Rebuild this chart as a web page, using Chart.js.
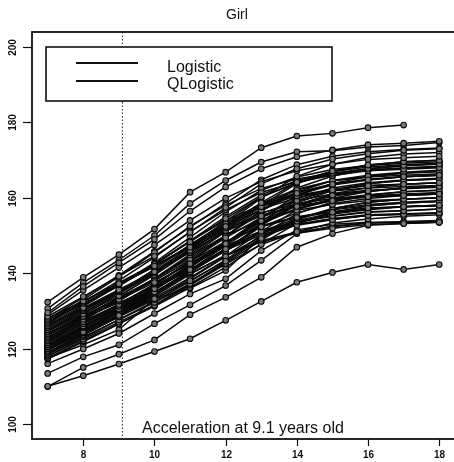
<!DOCTYPE html>
<html>
<head>
<meta charset="utf-8">
<script src="https://cdn.jsdelivr.net/npm/chart.js@4.4.1/dist/chart.umd.min.js"></script>
<style>
  html, body { margin: 0; padding: 0; background: #fff; overflow: hidden; }
  canvas { display: block; }
</style>
</head>
<body>
<canvas id="girlChart" width="460" height="462"></canvas>
<script>
// ages (x) and heights (cm) for each girl
const ages = [7, 8, 9, 10, 11, 12, 13, 14, 15, 16, 17, 18];

const tallCurves = [
  [132.3, 138.9, 144.9, 151.7, 161.5, 166.8, 173.3, 176.4, 177.1, 178.6, 179.3, null],
  [130.6, 137.5, 143.5, 150.0, 158.5, 164.6, 169.5, 172.2, 172.5, 173.5, 173.9, 174.7],
];

const shortCurves = [
  [110.0, 112.8, 115.9, 119.2, 122.6, 127.5, 132.5, 137.6, 140.2, 142.3, 141.0, 142.3],
  [109.9, 115.0, 118.5, 122.3, 129.0, 133.6, 138.9, 146.9, 150.5, 152.7, 153.2, 153.5],
  [113.4, 117.8, 121.0, 126.6, 131.6, 136.7, 143.4, 150.5, 152.5, 153.3, 153.5, 153.5],
  [116.0, 119.9, 124.0, 129.3, 134.5, 138.5, 146.0, 151.5, 153.0, 153.5, 153.5, 153.8],
  [117.5, 121.0, 125.0, 133.2, 136.0, 140.7, 149.6, 153.0, 154.5, 155.5, 155.8, 156.0],
];

const bandCurves = [
  [129.5, 136.5, 142.8, 149.0, 156.5, 162.9, 167.7, 170.9, 172.7, 174.1, 174.5, 175.0],
  [128.5, 133.8, 139.2, 144.5, 150.8, 157.4, 163.7, 167.7, 170.3, 171.7, 172.6, 173.0],
  [129.0, 135.5, 141.5, 147.5, 154.0, 159.9, 164.3, 167.2, 168.9, 170.2, 170.6, 171.0],
  [128.0, 132.6, 137.2, 141.9, 146.9, 152.4, 158.7, 164.1, 167.1, 168.7, 169.6, 170.0],
  [127.5, 132.5, 137.5, 142.4, 148.3, 154.5, 160.3, 164.0, 166.5, 167.8, 168.6, 169.0],
  [127.0, 132.0, 136.9, 141.9, 147.3, 153.1, 159.9, 165.7, 168.9, 170.7, 171.6, 172.0],
  [126.5, 132.4, 138.0, 144.2, 151.0, 156.8, 161.4, 164.3, 165.9, 167.2, 167.6, 168.0],
  [126.0, 130.8, 135.6, 140.4, 146.0, 152.0, 157.6, 161.2, 163.6, 164.8, 165.6, 166.0],
  [125.5, 130.4, 135.3, 140.2, 145.5, 151.3, 158.0, 163.8, 166.9, 168.7, 169.6, 170.0],
  [125.0, 130.1, 135.1, 141.0, 147.6, 153.5, 157.8, 160.5, 162.1, 163.2, 163.6, 164.0],
  [125.0, 130.0, 135.1, 140.1, 146.0, 152.3, 158.2, 162.0, 164.5, 165.7, 166.6, 167.0],
  [124.5, 129.2, 134.0, 139.5, 145.7, 151.1, 155.2, 157.7, 159.2, 160.3, 160.6, 161.0],
  [124.0, 128.5, 133.0, 137.5, 142.5, 147.8, 153.9, 159.3, 162.1, 163.8, 164.6, 165.0],
  [124.0, 128.7, 133.4, 138.0, 143.5, 149.4, 154.8, 158.3, 160.7, 161.8, 162.6, 163.0],
  [123.5, 128.5, 133.5, 138.5, 144.0, 149.9, 156.7, 162.6, 165.8, 167.6, 168.5, 169.0],
  [123.0, 127.8, 132.6, 138.2, 144.5, 150.0, 154.1, 156.7, 158.2, 159.3, 159.6, 160.0],
  [123.0, 128.2, 133.3, 138.5, 144.5, 151.0, 157.0, 160.8, 163.4, 164.7, 165.6, 166.0],
  [122.5, 127.1, 131.7, 137.1, 143.1, 148.4, 152.3, 154.8, 156.2, 157.3, 157.6, 158.0],
  [122.0, 126.6, 131.2, 135.9, 140.9, 146.4, 152.7, 158.1, 161.1, 162.7, 163.6, 164.0],
  [122.0, 126.8, 131.6, 136.4, 142.0, 148.0, 153.6, 157.2, 159.6, 160.8, 161.6, 162.0],
  [121.5, 126.0, 130.5, 135.0, 140.3, 145.9, 151.1, 154.5, 156.8, 157.9, 158.6, 159.0],
  [121.0, 126.1, 131.1, 136.2, 141.7, 147.7, 154.6, 160.6, 163.8, 165.6, 166.5, 167.0],
  [121.0, 125.7, 130.4, 135.8, 141.9, 147.3, 151.2, 153.8, 155.2, 156.3, 156.6, 157.0],
  [120.5, 125.6, 130.7, 135.8, 141.8, 148.1, 154.1, 157.9, 160.5, 161.7, 162.6, 163.0],
  [120.0, 124.4, 128.8, 133.2, 138.0, 143.2, 149.2, 154.4, 157.2, 158.8, 159.6, 160.0],
  [120.0, 125.0, 129.9, 134.9, 140.3, 146.1, 152.9, 158.7, 161.9, 163.7, 164.6, 165.0],
  [119.5, 124.2, 129.0, 134.5, 140.7, 146.1, 150.2, 152.7, 154.2, 155.3, 155.6, 156.0],
  [119.5, 124.5, 129.5, 134.4, 140.3, 146.5, 152.3, 156.0, 158.5, 159.8, 160.6, 161.0],
  [119.0, 123.7, 128.4, 133.0, 138.5, 144.4, 149.8, 153.3, 155.7, 156.8, 157.6, 158.0],
  [119.0, 123.8, 128.7, 133.5, 138.8, 144.5, 151.1, 156.8, 159.9, 161.7, 162.6, 163.0],
  [118.5, 123.5, 128.5, 134.3, 140.8, 146.6, 150.8, 153.5, 155.1, 156.2, 156.6, 157.0],
  [118.5, 123.1, 127.6, 132.2, 137.2, 142.6, 148.8, 154.2, 157.1, 158.8, 159.6, 160.0],
  [118.0, 122.5, 127.0, 131.5, 136.8, 142.4, 147.6, 151.0, 153.3, 154.4, 155.1, 155.5],
  [118.0, 122.8, 127.7, 132.5, 137.8, 143.5, 150.1, 155.8, 158.9, 160.7, 161.6, 162.0],
  [127.0, 131.8, 136.6, 142.2, 148.5, 154.0, 158.1, 160.7, 162.2, 163.3, 163.6, 164.0],
  [126.0, 130.6, 135.1, 140.4, 146.3, 151.6, 155.4, 157.9, 159.3, 160.3, 160.7, 161.0],
  [123.0, 127.3, 131.6, 136.5, 142.1, 147.1, 150.7, 153.0, 154.4, 155.3, 155.7, 156.0],
  [121.0, 125.2, 129.5, 134.3, 139.9, 144.7, 148.3, 150.6, 151.9, 152.9, 153.2, 153.5],
  [117.5, 122.1, 126.6, 131.2, 136.2, 141.6, 147.8, 153.2, 156.1, 157.8, 158.6, 159.0],
  [128.0, 132.6, 137.1, 141.7, 147.0, 152.7, 158.0, 161.4, 163.7, 164.9, 165.6, 166.0],
  [124.0, 128.1, 132.2, 136.2, 141.0, 146.1, 150.9, 153.9, 156.0, 157.0, 157.7, 158.0],
  [120.0, 124.4, 128.8, 133.9, 139.7, 144.8, 148.6, 150.9, 152.3, 153.3, 153.7, 154.0],
  [126.8, 133.0, 139.0, 145.5, 152.5, 158.0, 162.5, 165.0, 166.5, 167.3, 167.8, 168.2],
  [124.8, 129.5, 134.8, 140.5, 147.0, 153.8, 160.2, 164.0, 166.2, 167.4, 168.0, 168.4],
  [122.8, 128.0, 133.8, 139.8, 146.5, 152.8, 158.6, 162.3, 164.5, 165.5, 166.0, 166.4],
  [121.8, 126.5, 131.8, 137.0, 143.0, 149.8, 156.5, 161.5, 164.6, 166.0, 166.8, 167.3],
  [120.8, 125.8, 131.0, 136.8, 143.2, 150.0, 155.8, 159.2, 161.0, 162.0, 162.4, 162.8],
  [119.8, 124.6, 129.6, 134.8, 140.8, 147.4, 153.2, 157.0, 159.3, 160.4, 161.0, 161.4],
  [118.8, 124.0, 129.8, 135.8, 142.5, 148.2, 152.6, 155.0, 156.4, 157.2, 157.6, 157.8],
  [125.8, 131.2, 136.8, 142.8, 149.5, 156.3, 162.0, 165.5, 167.5, 168.6, 169.2, 169.6],
  [127.8, 133.5, 139.4, 145.8, 152.2, 158.5, 164.8, 168.8, 171.0, 172.2, 172.8, 173.2],
  [123.8, 129.0, 134.5, 140.0, 146.2, 152.0, 157.0, 160.0, 161.8, 162.6, 163.0, 163.3],
  [122.2, 127.5, 133.0, 138.6, 145.0, 151.5, 156.0, 158.4, 159.8, 160.5, 160.9, 161.2],
  [117.2, 121.8, 126.5, 131.5, 137.0, 143.0, 149.5, 154.5, 157.0, 158.2, 158.8, 159.2],
  [120.4, 125.2, 130.2, 135.5, 141.5, 148.0, 154.8, 159.8, 162.6, 164.0, 164.7, 165.2],
  [126.2, 131.5, 137.0, 142.5, 148.6, 155.0, 160.8, 164.6, 167.0, 168.2, 168.8, 169.2],
];

const xTicks = [8, 10, 12, 14, 16, 18];
const yTicks = [100, 120, 140, 160, 180, 200];
const legendLabels = ['Logistic', 'QLogistic'];
const accelAge = 9.1;
const titleText = 'Girl';
const noteText = 'Acceleration at 9.1 years old';

const allCurves = [...bandCurves, ...shortCurves, ...tallCurves];

const datasets = allCurves.map(curve => ({
  data: ages.map((a, i) => ({ x: a, y: curve[i] })).filter(p => p.y !== null),
  borderColor: '#0a0a0a',
  borderWidth: 1.5,
  pointRadius: 2.8,
  pointBackgroundColor: '#7a7a7a',
  pointBorderColor: '#0a0a0a',
  pointBorderWidth: 1.1,
  tension: 0,
  fill: false,
}));

const FONT = "'Liberation Sans', Arial, Helvetica, sans-serif";

// frame, ticks, labels, dotted line, legend box and texts
const rPlotStyle = {
  id: 'rPlotStyle',
  afterDatasetsDraw(chart) {
    const { ctx, chartArea: area, scales: { x, y } } = chart;
    ctx.save();

    // dotted vertical line
    const xa = x.getPixelForValue(accelAge);
    ctx.strokeStyle = '#222';
    ctx.lineWidth = 1;
    ctx.setLineDash([1.5, 2]);
    ctx.beginPath();
    ctx.moveTo(xa, area.top);
    ctx.lineTo(xa, area.bottom);
    ctx.stroke();
    ctx.setLineDash([]);

    // legend box
    const lx = 46, ly = 47, lw = 286, lh = 54;
    ctx.fillStyle = '#fff';
    ctx.fillRect(lx, ly, lw, lh);
    ctx.strokeStyle = '#111';
    ctx.lineWidth = 1.6;
    ctx.strokeRect(lx, ly, lw, lh);
    ctx.font = '16px ' + FONT;
    ctx.fillStyle = '#111';
    ctx.textAlign = 'left';
    ctx.textBaseline = 'alphabetic';
    legendLabels.forEach((lab, i) => {
      const yy = 63 + i * 18;
      ctx.lineWidth = 2;
      ctx.beginPath();
      ctx.moveTo(76, yy);
      ctx.lineTo(138, yy);
      ctx.stroke();
      ctx.fillText(lab, 167, 71.5 + i * 17.6);
    });

    // frame
    ctx.lineWidth = 1.8;
    ctx.strokeStyle = '#111';
    ctx.strokeRect(area.left, area.top, area.right - area.left, area.bottom - area.top);

    // x ticks
    ctx.lineWidth = 1.2;
    ctx.font = 'bold 10px ' + FONT;
    ctx.textAlign = 'center';
    ctx.textBaseline = 'middle';
    xTicks.forEach(v => {
      const px = Math.round(x.getPixelForValue(v)) + 0.5;
      ctx.beginPath();
      ctx.moveTo(px, area.bottom);
      ctx.lineTo(px, area.bottom + 7);
      ctx.stroke();
      ctx.fillText(String(v), px, 455.5);
    });

    // y ticks (rotated labels)
    yTicks.forEach(v => {
      const py = Math.round(y.getPixelForValue(v)) + 0.5;
      ctx.beginPath();
      ctx.moveTo(area.left - 9, py);
      ctx.lineTo(area.left, py);
      ctx.stroke();
      ctx.save();
      ctx.translate(13, py);
      ctx.rotate(-Math.PI / 2);
      ctx.fillText(String(v), 0, 0);
      ctx.restore();
    });

    // title and note
    ctx.font = '14px ' + FONT;
    ctx.textAlign = 'center';
    ctx.textBaseline = 'alphabetic';
    ctx.fillText(titleText, 237, 18.5);
    ctx.font = '16px ' + FONT;
    ctx.textAlign = 'left';
    ctx.fillText(noteText, 142, 432.5);

    ctx.restore();
  },
};

new Chart(document.getElementById('girlChart').getContext('2d'), {
  type: 'line',
  data: { datasets },
  options: {
    responsive: false,
    animation: false,
    devicePixelRatio: 1,
    layout: { padding: { left: 32, top: 32, right: 3, bottom: 23 } },
    plugins: {
      legend: { display: false },
      tooltip: { enabled: false },
    },
    scales: {
      x: { type: 'linear', min: 6.56, max: 18.44, display: false },
      y: { type: 'linear', min: 96, max: 204, display: false },
    },
  },
  plugins: [rPlotStyle],
});
</script>
</body>
</html>
